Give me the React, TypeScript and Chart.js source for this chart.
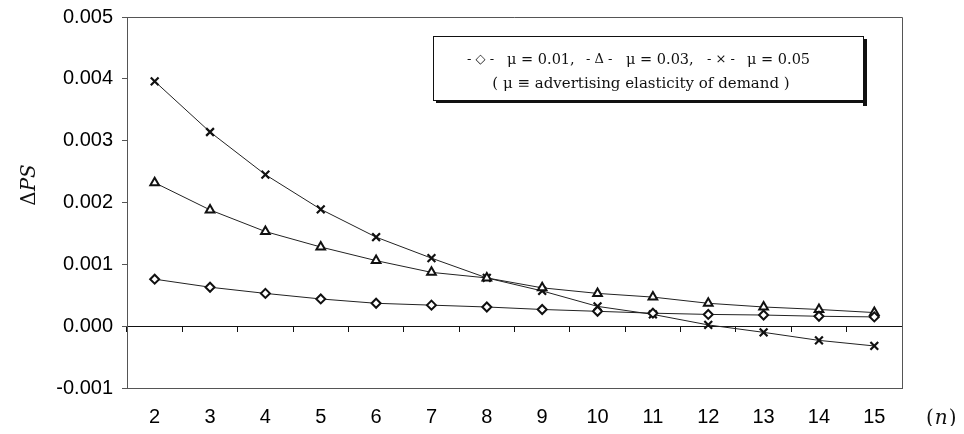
import React, { useEffect, useRef } from "react";
import { Chart, registerables } from "chart.js";

Chart.register(...registerables);

const categories = ["2", "3", "4", "5", "6", "7", "8", "9", "10", "11", "12", "13", "14", "15"];
const mu001 = [0.00076, 0.00063, 0.00053, 0.00044, 0.00037, 0.00034, 0.00031, 0.00027, 0.00024, 0.00021, 0.00019, 0.00018, 0.00016, 0.00015];
const mu003 = [0.00232, 0.00188, 0.00153, 0.00128, 0.00106, 0.00087, 0.00078, 0.00062, 0.00053, 0.00047, 0.00037, 0.00031, 0.00027, 0.00022];
const mu005 = [0.00396, 0.00314, 0.00245, 0.00189, 0.00144, 0.0011, 0.00078, 0.00057, 0.00032, 0.00019, 0.00002, -0.0001, -0.00023, -0.00032];
const yTicks = [-0.001, 0, 0.001, 0.002, 0.003, 0.004, 0.005];
const legendMarkers = ["- ◇ -", "- Δ -", "- × -"];
const legendTexts = ["μ = 0.01,", "μ = 0.03,", "μ = 0.05"];
const legendNote = "( μ ≡ advertising elasticity of demand )";

const SERIF = "'DejaVu Serif', 'Liberation Serif', serif";
const SANS = "'Liberation Sans', Arial, sans-serif";

const decorPlugin = {
  id: "decor",
  afterDraw(chart: any) {
    const { ctx, chartArea: a } = chart;
    ctx.save();
    // top and right frame
    ctx.strokeStyle = "#555";
    ctx.lineWidth = 1;
    ctx.beginPath();
    ctx.moveTo(a.left, a.top + 0.5);
    ctx.lineTo(a.right + 0.5, a.top + 0.5);
    ctx.lineTo(a.right + 0.5, a.bottom);
    ctx.stroke();

    // y title: ΔPS
    ctx.fillStyle = "#111";
    ctx.translate(22, 177);
    ctx.rotate(-Math.PI / 2);
    ctx.textBaseline = "middle";
    ctx.font = `20px ${SERIF}`;
    const w1 = ctx.measureText("Δ").width;
    ctx.font = `italic 20px ${SERIF}`;
    const w2 = ctx.measureText("PS").width;
    const x0 = -(w1 + w2) / 2;
    ctx.font = `20px ${SERIF}`;
    ctx.textAlign = "left";
    ctx.fillText("Δ", x0, 0);
    ctx.font = `italic 20px ${SERIF}`;
    ctx.fillText("PS", x0 + w1, 0);
    ctx.restore();

    // (n) label
    ctx.save();
    ctx.fillStyle = "#111";
    ctx.textBaseline = "middle";
    ctx.textAlign = "left";
    ctx.font = `20px ${SERIF}`;
    const px = 918;
    const py = 411;
    ctx.fillText("(", px, py);
    const wp = ctx.measureText("(").width;
    ctx.font = `italic 20px ${SERIF}`;
    ctx.fillText("n", px + wp + 1, py);
    const wn = ctx.measureText("n").width;
    ctx.font = `20px ${SERIF}`;
    ctx.fillText(")", px + wp + wn + 2, py);
    ctx.restore();

    // legend box
    ctx.save();
    const bx = 425, by = 28, bw = 430, bh = 64;
    ctx.fillStyle = "#111";
    ctx.fillRect(bx + 3, by + bh, bw + 1, 3);
    ctx.fillRect(bx + bw, by + 3, 4, bh + 3);
    ctx.fillStyle = "#fff";
    ctx.fillRect(bx, by, bw, bh);
    ctx.strokeStyle = "#111";
    ctx.lineWidth = 1;
    ctx.strokeRect(bx + 0.5, by + 0.5, bw, bh);
    ctx.fillStyle = "#111";
    ctx.textBaseline = "middle";
    ctx.textAlign = "left";
    const starts = [459, 578, 699];
    for (let i = 0; i < 3; i++) {
      ctx.font = `13px ${SERIF}`;
      ctx.fillText(legendMarkers[i], starts[i], by + 24);
      ctx.font = `14.5px ${SERIF}`;
      ctx.fillText(legendTexts[i], starts[i] + 40, by + 24);
    }
    ctx.font = `15px ${SERIF}`;
    ctx.textAlign = "center";
    ctx.fillText(legendNote, 633, by + 48);
    ctx.restore();
  },
};

export default function App() {
  const ref = useRef<HTMLCanvasElement | null>(null);
  useEffect(() => {
    if (!ref.current) return;
    const common = { borderColor: "#222", borderWidth: 1, pointBorderColor: "#111", pointBackgroundColor: "#fff", pointBorderWidth: 2, tension: 0, fill: false };
    const chart = new Chart(ref.current, {
      type: "line",
      data: {
        labels: categories,
        datasets: [
          { ...common, label: "μ = 0.01", data: mu001, pointStyle: "rectRot", pointRadius: 4.5 },
          { ...common, label: "μ = 0.03", data: mu003, pointStyle: "triangle", pointRadius: 5 },
          { ...common, label: "μ = 0.05", data: mu005, pointStyle: "crossRot", pointRadius: 5.5, pointBorderWidth: 2.2 },
        ],
      },
      options: {
        animation: false,
        responsive: false,
        layout: { padding: { left: 0, top: 0, right: 58, bottom: 0 } },
        plugins: { legend: { display: false }, tooltip: { enabled: false } },
        scales: {
          x: {
            type: "category",
            offset: true,
            position: "bottom",
            grid: { display: false, drawTicks: false },
            border: { display: true, color: "#555", width: 1 },
            ticks: { padding: 17, color: "#000", font: { family: SANS, size: 20 } },
            afterFit(s: any) { s.height = 38; s.paddingLeft = 0; s.paddingRight = 0; },
          },
          x0: {
            type: "category",
            offset: true,
            position: { y: 0 },
            grid: { display: true, offset: true, drawOnChartArea: false, drawTicks: true, tickLength: 5, color: "#111" },
            border: { display: true, color: "#111", width: 1 },
            ticks: { display: false },
            afterFit(s: any) { s.paddingLeft = 0; s.paddingRight = 0; },
          },
          y: {
            min: -0.001,
            max: 0.005,
            afterBuildTicks(s: any) { s.ticks = yTicks.map((v) => ({ value: v })); },
            grid: { display: true, drawOnChartArea: false, drawTicks: true, tickLength: 5, color: "#555" },
            border: { display: true, color: "#555", width: 1 },
            ticks: {
              padding: 9,
              color: "#000",
              font: { family: SANS, size: 20 },
              callback: (v: any) => Number(v).toFixed(3),
            },
            afterFit(s: any) { s.width = 119; s.paddingTop = 9; s.paddingBottom = 0; },
          },
        },
      },
      plugins: [decorPlugin],
    } as any);
    return () => chart.destroy();
  }, []);
  return (
    <div style={{ width: 952, height: 418 }}>
      <canvas ref={ref} width={952} height={418} />
    </div>
  );
}
